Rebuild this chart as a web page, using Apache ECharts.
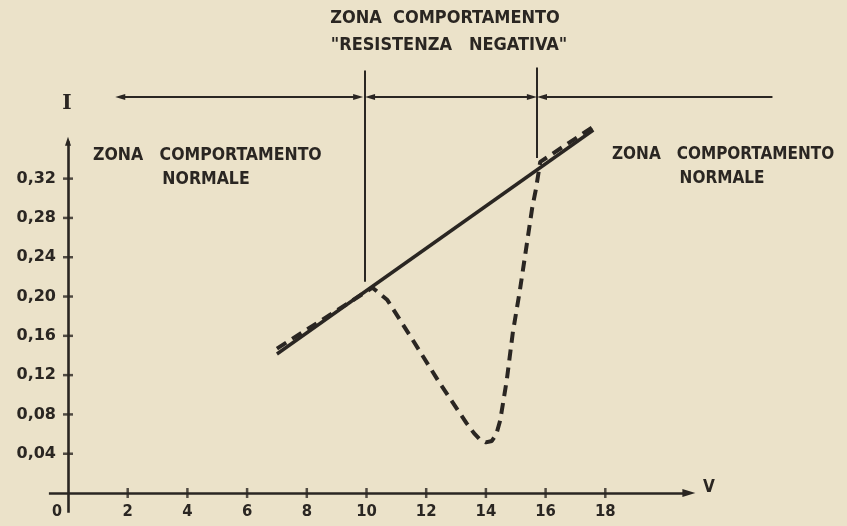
<!DOCTYPE html>
<html><head><meta charset="utf-8">
<script src="https://cdn.jsdelivr.net/npm/echarts@6/dist/echarts.min.js"></script>
<style>html,body{margin:0;padding:0;background:#ebe2c9}#c{width:847px;height:526px}</style>
</head><body><div id="c"></div>
<script>
// ---- data ----
const vTicks = [2, 4, 6, 8, 10, 12, 14, 16, 18];
const vTickLabels = ['2', '4', '6', '8', '10', '12', '14', '16', '18'];
const iTicks = [0.04, 0.08, 0.12, 0.16, 0.20, 0.24, 0.28, 0.32];
const iTickLabels = ['0,04', '0,08', '0,12', '0,16', '0,20', '0,24', '0,28', '0,32'];

// normal (ohmic) behaviour: straight line
const normalV = [7.0, 17.6];
const normalI = [0.1415, 0.3695];

// behaviour with the negative-resistance zone (dashed)
const negV = [7.0, 10.2, 10.7, 11.55, 12.45, 13.35, 13.6, 13.8, 14.0, 14.2, 14.35, 14.48, 14.7, 14.9, 15.14, 15.3, 15.55, 15.68, 15.82, 17.6];
const negI = [0.147, 0.209, 0.1964, 0.1557, 0.112, 0.0712, 0.061, 0.0545, 0.0515, 0.053, 0.06, 0.074, 0.115, 0.163, 0.2066, 0.239, 0.29, 0.31, 0.337, 0.373];

// zone boundaries and the zone arrows
const zoneBoundV = [9.95, 15.71];
const zoneBoundFrom = [0.215, 0.341];
const zoneBoundTo = [0.43, 0.433];
const zoneArrowI = 0.403;
const zoneArrowFrom = [1.75, 10.12, 15.88];
const zoneArrowTo = [9.72, 15.54, 23.6];
const zoneArrowStartHead = [true, true, true];
const zoneArrowEndHead = [true, true, false];

// axis extents as drawn
const xAxisFrom = -0.64, xAxisTo = 20.8;
const yAxisFrom = -0.02, yAxisTo = 0.358;

const INK = '#2a2622';
const FONT = '"DejaVu Sans Condensed","Liberation Sans Narrow",sans-serif';
const FONT_WIDE = '"DejaVu Sans",sans-serif';

const pair = (a, b) => a.map((v, k) => [v, b[k]]);

const axisLines = [
  [{coord: [xAxisFrom, 0], symbol: 'none'}, {coord: [xAxisTo, 0], symbol: 'triangle', symbolSize: [8, 13]}],
  [{coord: [0, yAxisFrom], symbol: 'none'}, {coord: [0, yAxisTo], symbol: 'triangle', symbolSize: [6, 9]}]
];
const zoneLines = zoneBoundV.map((v, k) => [{coord: [v, zoneBoundFrom[k]], symbol: 'none'}, {coord: [v, zoneBoundTo[k]], symbol: 'none'}]);
const arrowLines = zoneArrowFrom.map((v, k) => [
  {coord: [v, zoneArrowI], symbol: zoneArrowStartHead[k] ? 'triangle' : 'none', symbolSize: [6, 10]},
  {coord: [zoneArrowTo[k], zoneArrowI], symbol: zoneArrowEndHead[k] ? 'triangle' : 'none', symbolSize: [6, 10]}
]);

const txt = (text, x, y, size, align, family) => ({
  type: 'text', x: x, y: y, silent: true,
  style: {text: text, fill: INK, font: 'bold ' + size + 'px ' + (family || FONT),
          align: align || 'center', verticalAlign: 'middle', textAlign: align || 'center', textVerticalAlign: 'middle'}
});

// grid geometry: V from -2 to 26, I from -0.03 to 0.49
const GL = 8.3, GR = 2.9, GT = 11.6, GB = 3.5;
const X_MIN = -2, X_MAX = 26, Y_MIN = -0.03, Y_MAX = 0.49;
const plotW = 847 - GL - GR, plotH = 526 - GT - GB;
const yAxisShift = -(0 - X_MIN) / (X_MAX - X_MIN) * plotW;   // move y axis to V = 0
const xAxisShift = -(0 - Y_MIN) / (Y_MAX - Y_MIN) * plotH;   // move x axis to I = 0

const chart = echarts.init(document.getElementById('c'), null, {renderer: 'canvas'});
chart.setOption({
  backgroundColor: '#ebe2c9',
  animation: false,
  grid: {left: GL, right: GR, top: GT, bottom: GB, containLabel: false, outerBoundsMode: 'none'},
  xAxis: {
    type: 'value', min: X_MIN, max: X_MAX, position: 'bottom', offset: xAxisShift,
    axisLine: {show: false, onZero: false}, axisTick: {show: false}, splitLine: {show: false},
    axisLabel: {
      customValues: vTicks, margin: 10,
      formatter: v => vTickLabels[vTicks.findIndex(t => Math.abs(t - v) < 1e-6)] || '',
      color: INK, fontFamily: FONT, fontWeight: 'bold', fontSize: 16.5
    }
  },
  yAxis: {
    type: 'value', min: Y_MIN, max: Y_MAX, position: 'left', offset: yAxisShift,
    axisLine: {show: false, onZero: false}, axisTick: {show: false}, splitLine: {show: false},
    axisLabel: {
      customValues: iTicks, margin: 12,
      formatter: v => iTickLabels[iTicks.findIndex(t => Math.abs(t - v) < 1e-6)] || '',
      color: INK, fontFamily: FONT_WIDE, fontWeight: 'bold', fontSize: 16
    }
  },
  series: [
    {
      type: 'line', name: 'axes', data: [], silent: true,
      markLine: {silent: true, animation: false, label: {show: false}, emphasis: {disabled: true},
        lineStyle: {color: INK, width: 2.6, type: 'solid', opacity: 1},
        data: axisLines}
    },
    {
      type: 'line', name: 'zones', data: [], silent: true,
      markLine: {silent: true, animation: false, label: {show: false}, emphasis: {disabled: true},
        lineStyle: {color: INK, width: 2, type: 'solid', opacity: 1},
        data: zoneLines.concat(arrowLines)}
    },
    {
      type: 'scatter', name: 'xticks', silent: true, symbol: 'rect', symbolSize: [2.5, 10],
      itemStyle: {color: INK}, data: vTicks.map(v => [v, 0])
    },
    {
      type: 'scatter', name: 'yticks', silent: true, symbol: 'rect', symbolSize: [10, 2.5],
      itemStyle: {color: INK}, data: iTicks.map(i => [0, i])
    },
    {
      type: 'line', name: 'normale', silent: true, showSymbol: false,
      lineStyle: {color: INK, width: 3.4}, data: pair(normalV, normalI)
    },
    {
      type: 'line', name: 'resistenza negativa', silent: true, showSymbol: false, smooth: false,
      lineStyle: {color: INK, width: 4, type: [11, 7]}, data: pair(negV, negI)
    }
  ],
  graphic: [
    txt('ZONA  COMPORTAMENTO', 445, 18, 18),
    txt('"RESISTENZA   NEGATIVA"', 449, 45, 18),
    txt('ZONA   COMPORTAMENTO', 93, 155, 17.5, 'left'),
    txt('NORMALE', 206, 179, 17.5),
    txt('ZONA   COMPORTAMENTO', 612, 155, 17, 'left'),
    txt('NORMALE', 722, 179, 17),
    txt('I', 67, 104, 20, 'center', '"DejaVu Serif",serif'),
    txt('V', 709, 488, 17),
    txt('0', 57, 512, 16)
  ]
});
</script>
</body></html>
